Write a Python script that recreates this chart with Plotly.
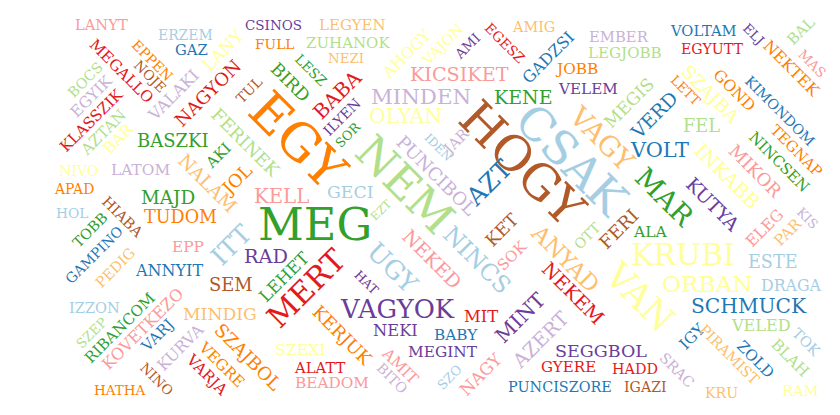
"""
Word cloud of Hungarian chat words, rebuilt with plotly annotations
"""

import plotly.graph_objects as go

# Paired palette used by the cloud
PALETTE = {
    "lblue": "#a6cee3", "blue": "#1f78b4",
    "lgreen": "#b2df8a", "green": "#33a02c",
    "pink": "#fb9a99", "red": "#e31a1c",
    "lorange": "#fdbf6f", "orange": "#ff7f00",
    "lpurple": "#cab2d6", "purple": "#6a3d9a",
    "yellow": "#ffff99", "brown": "#b15928",
}

FONT = "DejaVu Serif"

# capital advance widths (em): the cloud was set in a Times-like face,
# we only have DejaVu Serif, so each word is scaled to keep its length
TIMES_W = dict(A=.722, B=.667, C=.667, D=.722, E=.611, F=.556, G=.722, H=.722, I=.333,
               J=.389, K=.722, L=.611, M=.889, N=.722, O=.722, P=.556, R=.667, S=.556,
               T=.611, U=.722, V=.722, X=.722, Y=.722, Z=.611)
DEJAVU_W = dict(A=.722, B=.735, C=.733, D=.803, E=.729, F=.685, G=.812, H=.874, I=.424,
                J=.432, K=.762, L=.681, M=.997, N=.873, O=.820, P=.701, R=.770, S=.685,
                T=.704, U=.852, V=.722, X=.722, Y=.704, Z=.685)

words = [
    "LANYT", "ERZEM", "GAZ", "CSINOS", "FULL", "LEGYEN", "ZUHANOK", "NEZI", "AHOGY", "VAJON",
    "AMI", "EGESZ", "AMIG", "GADZSI", "KICSIKET", "MINDEN", "OLYAN", "KENE", "LESZ", "BIRD",
    "BABA", "ILYEN", "SOR", "TUL", "EGY", "FERINEK", "AKI", "JOL", "NALAM", "KELL",
    "GECI", "EZT", "MEG", "NEM", "PUNCIBOL", "IDEN", "JAR", "HOGY", "CSAK", "AZT",
    "VAGY", "MAR", "MEGIS", "VERD", "VOLT", "FEL", "LETT", "SZAJBA", "GOND", "KIMONDOM",
    "TEGNAP", "NINCSEN", "MIKOR", "INKABB", "KUTYA", "VOLTAM", "EGYUTT", "EMBER", "LEGJOBB", "JOBB",
    "VELEM", "ELJ", "NEKTEK", "BAL", "MAS", "EPPEN", "MEGALLO", "NOJE", "LANY", "BOCS",
    "EGYIK", "KLASSZIK", "AZTAN", "BAR", "VALAKI", "NAGYON", "BASZKI", "NIVO", "LATOM", "APAD",
    "MAJD", "HOL", "HIABA", "TUDOM", "TOBB", "GAMPINO", "PEDIG", "EPP", "ITT", "ANNYIT",
    "SEM", "RAD", "LEHET", "MERT", "HAT", "UGY", "NEKED", "NINCS", "VAGYOK", "NEKI",
    "KERJUK", "SZEXI", "ALATT", "BEADOM", "AMIT", "BITO", "MIT", "BABY", "MEGINT", "SZO",
    "NAGY", "MINT", "AZERT", "KET", "SOK", "ANYAD", "OTT", "FERI", "NEKEM", "SEGGBOL",
    "GYERE", "HADD", "PUNCISZORE", "IGAZI", "ALA", "KRUBI", "VAN", "ORBAN", "ESTE", "DRAGA",
    "SCHMUCK", "VELED", "IGY", "PIRAMIST", "ZOLD", "BLAH", "TOK", "SRAC", "KRU", "RAM",
    "ELEG", "PAR", "KIS", "IZZON", "SZEP", "RIBANCOM", "KOVETKEZO", "VARJ", "KURVA", "MINDIG",
    "SZAJBOL", "VEGRE", "VARJA", "NINO", "HATHA",
]

# relative weight of each word (drawn as font size)
weights = [
    16, 16, 16, 16, 16, 17, 17, 16, 17, 16,
    15, 16, 16, 18, 22, 25, 22, 22, 16, 20,
    21, 16, 15, 16, 56, 21, 16, 20, 20, 22,
    20, 13, 51, 52, 21, 14, 16, 54, 50, 27,
    28, 30, 20, 21, 23, 21, 15, 20, 18, 16,
    17, 18, 20, 22, 20, 16, 16, 17, 17, 17,
    17, 15, 18, 16, 15, 17, 17, 16, 18, 16,
    17, 17, 17, 17, 17, 20, 20, 16, 17, 15,
    20, 16, 16, 20, 16, 16, 17, 19, 30, 18,
    21, 21, 20, 35, 14, 28, 22, 28, 27, 19,
    20, 18, 16, 17, 17, 16, 19, 16, 18, 15,
    18, 24, 22, 20, 17, 24, 16, 22, 22, 20,
    17, 16, 17, 16, 16, 34, 38, 26, 21, 17,
    23, 18, 17, 17, 17, 17, 16, 16, 16, 16,
    18, 17, 15, 17, 16, 17, 18, 16, 17, 20,
    20, 17, 16, 16, 15,
]

colour_keys = [
    "pink", "lblue", "blue", "purple", "orange", "lorange", "lgreen", "lorange", "yellow", "yellow",
    "purple", "red", "lorange", "blue", "pink", "lpurple", "yellow", "green", "green", "green",
    "red", "purple", "green", "brown", "orange", "lgreen", "green", "orange", "lorange", "pink",
    "lblue", "lgreen", "green", "lgreen", "lpurple", "lblue", "lpurple", "brown", "lblue", "blue",
    "lorange", "green", "lgreen", "blue", "blue", "lgreen", "orange", "yellow", "orange", "blue",
    "orange", "green", "pink", "yellow", "purple", "blue", "red", "lpurple", "lgreen", "orange",
    "purple", "purple", "orange", "lgreen", "pink", "orange", "red", "brown", "yellow", "lgreen",
    "lpurple", "red", "lgreen", "yellow", "lpurple", "red", "green", "yellow", "lpurple", "orange",
    "green", "lblue", "brown", "orange", "green", "blue", "lorange", "pink", "lblue", "blue",
    "brown", "purple", "green", "red", "purple", "lblue", "pink", "lblue", "purple", "purple",
    "orange", "yellow", "red", "pink", "pink", "lpurple", "red", "blue", "purple", "lblue",
    "pink", "purple", "lpurple", "brown", "pink", "lorange", "lgreen", "brown", "red", "purple",
    "red", "red", "blue", "brown", "green", "yellow", "yellow", "yellow", "lblue", "lblue",
    "blue", "lgreen", "blue", "lorange", "blue", "lgreen", "lblue", "lpurple", "lorange", "yellow",
    "pink", "lorange", "lpurple", "lblue", "lgreen", "green", "pink", "blue", "lpurple", "lorange",
    "orange", "orange", "red", "brown", "orange",
]

# cloud layout (word centres on an 840 x 415 canvas, rotation in degrees)
layout_x = [
    101, 185, 191, 273, 275, 352, 348, 346, 407, 442,
    467, 505, 533, 548, 459, 421, 405, 523, 311, 290,
    337, 342, 347, 249, 298, 246, 218, 236, 208, 281,
    350, 381, 315, 405, 437, 438, 455, 522, 572, 488,
    602, 665, 629, 654, 659, 701, 686, 711, 735, 780,
    797, 779, 755, 727, 713, 703, 712, 619, 625, 576,
    588, 754, 792, 801, 812, 152, 121, 150, 223, 85,
    91, 91, 103, 118, 173, 207, 173, 78, 140, 74,
    168, 72, 123, 180, 90, 94, 115, 188, 231, 169,
    231, 266, 284, 306, 367, 393, 432, 477, 397, 395,
    343, 300, 320, 332, 400, 392, 481, 456, 443, 449,
    481, 520, 540, 502, 512, 565, 587, 618, 573, 601,
    568, 635, 560, 645, 650, 683, 640, 707, 772, 791,
    749, 761, 692, 730, 755, 790, 806, 677, 721, 800,
    765, 788, 808, 94, 91, 120, 142, 157, 180, 220,
    248, 221, 207, 157, 120,
]

layout_y = [
    24, 35, 49, 25, 44, 25, 43, 58, 54, 44,
    46, 43, 27, 57, 74, 96, 116, 97, 70, 82,
    95, 117, 135, 90, 140, 142, 156, 179, 183, 196,
    192, 210, 225, 184, 175, 147, 141, 163, 160, 183,
    138, 197, 103, 115, 150, 125, 90, 94, 90, 111,
    150, 162, 171, 176, 204, 30, 49, 36, 53, 69,
    89, 34, 68, 31, 63, 60, 71, 76, 50, 80,
    97, 121, 133, 138, 95, 93, 140, 171, 170, 189,
    197, 213, 216, 217, 230, 255, 268, 247, 245, 270,
    284, 256, 277, 288, 282, 268, 259, 260, 309, 330,
    335, 349, 367, 383, 366, 378, 316, 335, 352, 377,
    374, 318, 340, 230, 256, 258, 236, 229, 293, 351,
    367, 369, 387, 387, 232, 254, 296, 283, 262, 285,
    306, 325, 337, 354, 359, 358, 342, 370, 393, 390,
    228, 232, 218, 307, 333, 328, 329, 336, 347, 314,
    356, 364, 375, 379, 390,
]

angles = [
    0, 0, 0, 0, 0, 0, 0, 0, -45, -45,
    -45, 45, 0, -45, 0, 0, 0, 0, 45, 45,
    -45, -45, -45, -45, 45, 45, -45, -45, 45, 0,
    0, -45, 0, 45, 45, 45, -45, 45, 45, -45,
    45, 45, -45, -45, 0, 0, 45, 45, 45, 45,
    45, 45, 45, 45, 45, 0, 0, 0, 0, 0,
    0, 45, 45, -45, 45, 45, 45, 45, -45, -45,
    -45, -45, -45, -45, -45, -45, 0, 0, 0, 0,
    0, 0, 45, 0, -45, -45, -45, 0, -45, 0,
    0, 0, -45, -45, 45, 45, 45, 45, 0, 0,
    45, 0, 0, 0, 45, 45, 0, 0, 0, -45,
    -45, -45, -45, -45, -45, 45, -45, -45, 45, 0,
    0, 0, 0, 0, 0, 0, 45, 0, 0, 0,
    0, 0, -45, 45, 45, 45, 45, 45, 0, 0,
    -45, -45, 45, 0, -45, -45, -45, -45, -45, 0,
    45, 45, 45, 45, 0,
]

W, H = 840, 415
PAGE_PAD = 8  # default body margin of the html page


def font_size(word, weight):
    times = sum(TIMES_W.get(ch, 0.7) for ch in word)
    dejavu = sum(DEJAVU_W.get(ch, 0.75) for ch in word)
    return round(weight * times / dejavu, 1)


fig = go.Figure()

# invisible anchor trace so the cartesian axes exist
fig.add_trace(go.Scatter(
    x=layout_x, y=layout_y, mode="markers",
    marker=dict(opacity=0), hoverinfo="skip", showlegend=False
))

for w, x, y, s, a, c in zip(words, layout_x, layout_y, weights, angles, colour_keys):
    fig.add_annotation(
        x=x, y=y, xref="x", yref="y",
        text=w, showarrow=False, textangle=a,
        xanchor="center", yanchor="middle",
        font=dict(family=FONT, size=font_size(w, s), color=PALETTE[c]),
    )

fig.update_layout(
    width=W - PAGE_PAD, height=H - PAGE_PAD,
    margin=dict(l=0, r=0, t=0, b=0),
    paper_bgcolor="white", plot_bgcolor="white",
    font=dict(family=FONT),
    showlegend=False,
)
fig.update_xaxes(range=[PAGE_PAD, W], visible=False, fixedrange=True)
fig.update_yaxes(range=[H, PAGE_PAD], visible=False, fixedrange=True)

fig.write_html("out.html")
